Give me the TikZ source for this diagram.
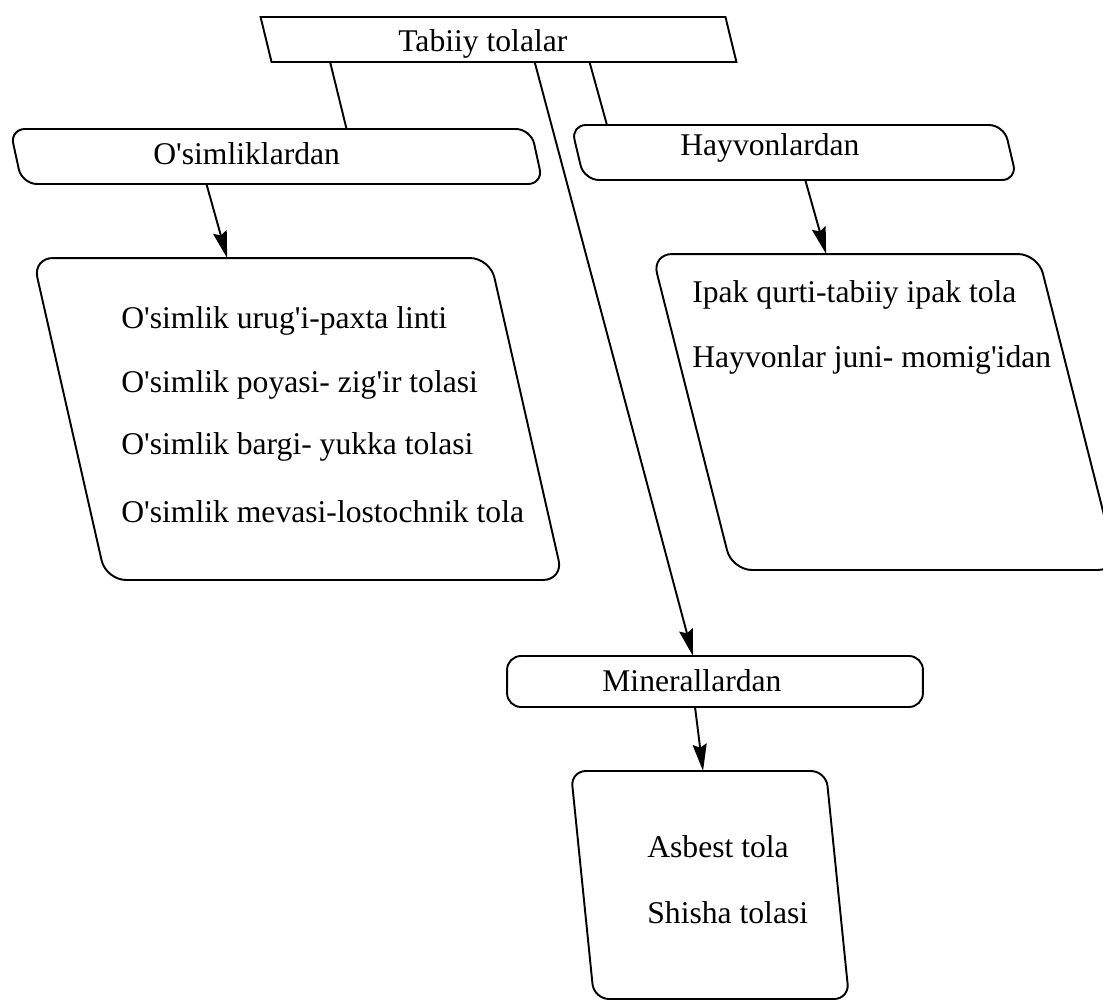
\documentclass[tikz,border=0pt]{standalone}
\usepackage{fontspec}
\setmainfont{Liberation Serif}[Ligatures=TeXOff]
\usetikzlibrary{arrows.meta, shapes.geometric, calc}

\begin{document}
\begin{tikzpicture}[x=0.02cm, y=-0.02cm,
  >={Stealth[length=0.54cm, width=0.28cm, inset=0.07cm]},
  slantbox/.style={draw, line width=1.1pt, shape=trapezium,
    inner sep=0pt, outer sep=0pt, text depth=0pt},
  roundbox/.style={draw, line width=1.1pt, rounded corners=0.28cm, inner sep=0pt, outer sep=0pt},
  txt/.style={anchor=base west, inner sep=0pt, font=\fontsize{18}{22}\selectfont},
  link/.style={line width=1.1pt}]
\useasboundingbox (0,0) rectangle (1103,1001);
\clip (0,0) rectangle (1103,1001);

% boxes
\node[slantbox, trapezium left angle=103.7, trapezium right angle=76.3,
  text width=9.08cm, text height=0.9cm] (natural) at (498.5,39.5) {};
\node[slantbox, rounded corners=0.3cm, trapezium left angle=102.3, trapezium right angle=77.7,
  text width=10.18cm, text height=1.1cm] (plants) at (276.5,156.5) {};
\node[slantbox, rounded corners=0.3cm, trapezium left angle=103.3, trapezium right angle=76.7,
  text width=8.4cm, text height=1.1cm] (animals) at (794,152.5) {};
\node[slantbox, rounded corners=0.4cm, trapezium left angle=102.8, trapezium right angle=77.2,
  text width=7.68cm, text height=6.44cm] (plantlist) at (298,419) {};
\node[slantbox, rounded corners=0.4cm, trapezium left angle=104.2, trapezium right angle=75.8,
  text width=6.12cm, text height=6.32cm] (animallist) at (885,412) {};
\node[roundbox, minimum width=8.32cm, minimum height=1.02cm] (minerals) at (715,681.5) {};
\node[slantbox, rounded corners=0.3cm, trapezium left angle=95.8, trapezium right angle=84.2,
  text width=4.64cm, text height=4.56cm] (minerallist) at (710,885) {};

% texts
\node[txt] (naturaltxt) at (398,51) {Tabiiy tolalar};
\node[txt] (plantstxt) at (153,164) {O'simliklardan};
\node[txt] (animalstxt) at (680,155) {Hayvonlardan};
\node[txt] (mineralstxt) at (602,691) {Minerallardan};
\node[txt] (seedtxt) at (121,328) {O'simlik urug'i-paxta linti};
\node[txt] (stemtxt) at (121,392) {O'simlik poyasi- zig'ir tolasi};
\node[txt] (leaftxt) at (121,454) {O'simlik bargi- yukka tolasi};
\node[txt] (fruittxt) at (121,522) {O'simlik mevasi-lostochnik tola};
\node[txt] (silktxt) at (692,302) {Ipak qurti-tabiiy ipak tola};
\node[txt] (wooltxt) at (692,367) {Hayvonlar juni- momig'idan};
\node[txt] (asbesttxt) at (647,857) {Asbest tola};
\node[txt] (glasstxt) at (647,923) {Shisha tolasi};

% connectors
\draw[link] ($(natural.bottom left corner)!0.126!(natural.bottom right corner)$)
  -- ($(plants.top left corner)!0.646!(plants.top right corner)$);
\draw[link] ($(natural.bottom left corner)!0.684!(natural.bottom right corner)$)
  -- ($(animals.top left corner)!0.083!(animals.top right corner)$);
\draw[link, ->] ($(natural.bottom left corner)!0.566!(natural.bottom right corner)$)
  -- ([xshift=-0.44cm]minerals.north);
\draw[link, ->] ($(plants.bottom left corner)!0.354!(plants.bottom right corner)$)
  -- ($(plantlist.top left corner)!0.425!(plantlist.top right corner)$);
\draw[link, ->] ($(animals.bottom left corner)!0.511!(animals.bottom right corner)$)
  -- ($(animallist.top left corner)!0.451!(animallist.top right corner)$);
\draw[link, ->] ([xshift=-0.4cm]minerals.south)
  -- ($(minerallist.top left corner)!0.518!(minerallist.top right corner)$);
\end{tikzpicture}
\end{document}
